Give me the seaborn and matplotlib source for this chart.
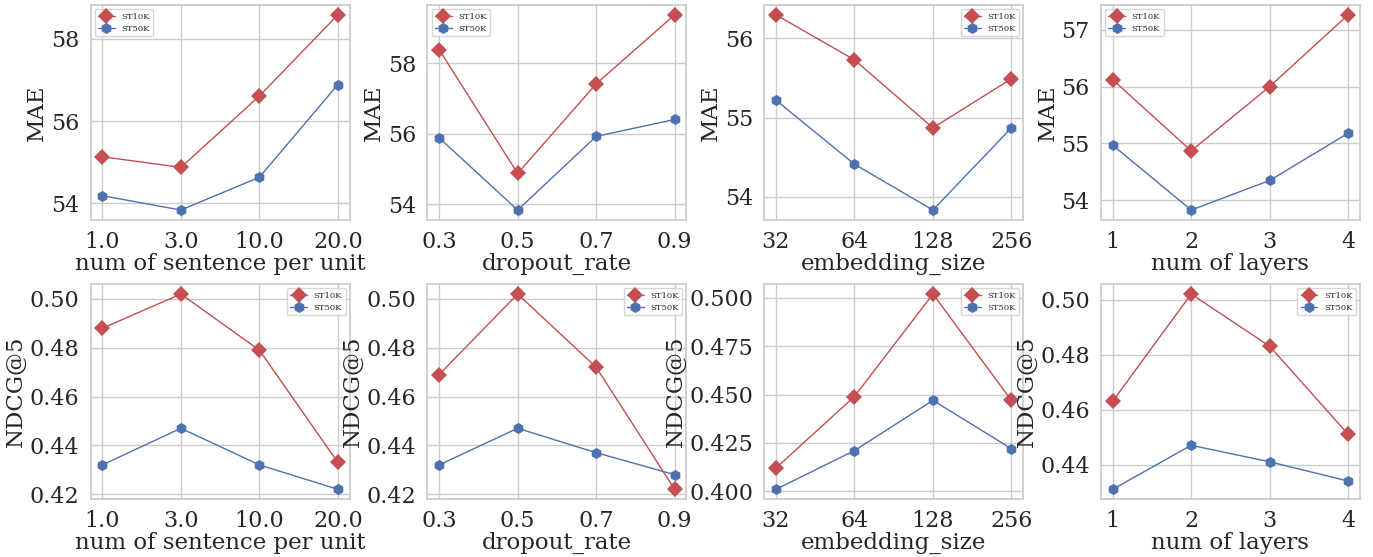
import numpy as np
import pandas as pd
import matplotlib
matplotlib.use("Agg")
import matplotlib.pyplot as plt
from matplotlib.ticker import MultipleLocator, FormatStrFormatter
import seaborn as sns

MODELS = ["ST10K", "ST50K"]

# x categories per column
SENTENCE = ["1.0", "3.0", "10.0", "20.0"]
DROPOUT = ["0.3", "0.5", "0.7", "0.9"]
EMBED = ["32", "64", "128", "256"]
LAYERS = ["1", "2", "3", "4"]

XLABELS = ["num of sentence per unit", "dropout_rate", "embedding_size", "num of layers"]

# MAE (top row)
MAE_SENT_10K = [55.13, 54.87, 56.61, 58.59]
MAE_SENT_50K = [54.18, 53.83, 54.63, 56.89]
MAE_DROP_10K = [58.38, 54.87, 57.41, 59.37]
MAE_DROP_50K = [55.88, 53.83, 55.92, 56.40]
MAE_EMB_10K = [56.30, 55.73, 54.87, 55.49]
MAE_EMB_50K = [55.22, 54.41, 53.83, 54.87]
MAE_LAY_10K = [56.12, 54.87, 56.00, 57.26]
MAE_LAY_50K = [54.97, 53.83, 54.35, 55.18]

# NDCG@5 (bottom row)
NDCG_SENT_10K = [0.488, 0.502, 0.479, 0.433]
NDCG_SENT_50K = [0.432, 0.447, 0.432, 0.422]
NDCG_DROP_10K = [0.469, 0.502, 0.472, 0.422]
NDCG_DROP_50K = [0.432, 0.447, 0.437, 0.428]
NDCG_EMB_10K = [0.412, 0.449, 0.502, 0.447]
NDCG_EMB_50K = [0.401, 0.421, 0.447, 0.422]
NDCG_LAY_10K = [0.463, 0.502, 0.483, 0.451]
NDCG_LAY_50K = [0.431, 0.447, 0.441, 0.434]

sns.set_theme(style="whitegrid")
plt.rcParams["font.family"] = ["DejaVu Serif"]

palette = {"ST10K": "#c44e52", "ST50K": "#4c72b0"}
markers = {"ST10K": "D", "ST50K": "h"}


def make_df(xs, v10, v50):
    return pd.DataFrame({
        "x": xs + xs,
        "value": v10 + v50,
        "model": ["ST10K"] * len(xs) + ["ST50K"] * len(xs),
    })


panels = [
    # (row, col, xs, v10, v50, ylabel, tick step, fmt, legend loc)
    (0, 0, SENTENCE, MAE_SENT_10K, MAE_SENT_50K, "MAE", 2, "%d", "upper left"),
    (0, 1, DROPOUT, MAE_DROP_10K, MAE_DROP_50K, "MAE", 2, "%d", "upper left"),
    (0, 2, EMBED, MAE_EMB_10K, MAE_EMB_50K, "MAE", 1, "%d", "upper right"),
    (0, 3, LAYERS, MAE_LAY_10K, MAE_LAY_50K, "MAE", 1, "%d", "upper left"),
    (1, 0, SENTENCE, NDCG_SENT_10K, NDCG_SENT_50K, "NDCG@5", 0.02, "%.2f", "upper right"),
    (1, 1, DROPOUT, NDCG_DROP_10K, NDCG_DROP_50K, "NDCG@5", 0.02, "%.2f", "upper right"),
    (1, 2, EMBED, NDCG_EMB_10K, NDCG_EMB_50K, "NDCG@5", 0.025, "%.3f", "upper right"),
    (1, 3, LAYERS, NDCG_LAY_10K, NDCG_LAY_50K, "NDCG@5", 0.02, "%.2f", "upper right"),
]

fig, axes = plt.subplots(2, 4, figsize=(13.73, 5.57), dpi=100)
fig.subplots_adjust(left=0.066, right=0.9905, top=0.991, bottom=0.104,
                    wspace=0.30, hspace=0.30)

for row, col, xs, v10, v50, ylab, step, fmt, loc in panels:
    ax = axes[row, col]
    df = make_df(xs, v10, v50)
    sns.lineplot(
        data=df, x="x", y="value", hue="model", style="model",
        markers=markers, dashes=False, palette=palette, sort=False,
        markersize=8, markeredgewidth=0, linewidth=1, ax=ax,
    )
    ax.yaxis.set_major_locator(MultipleLocator(step))
    ax.yaxis.set_major_formatter(FormatStrFormatter(fmt))
    ax.set_xlabel(XLABELS[col], fontsize=16.5, labelpad=0)
    ax.set_ylabel(ylab, fontsize=16.5, labelpad=2)
    ax.tick_params(axis="both", labelsize=16, pad=2)
    ax.legend(loc=loc, fontsize=6, frameon=True, title=None)

fig.savefig("out.png", dpi=100)
